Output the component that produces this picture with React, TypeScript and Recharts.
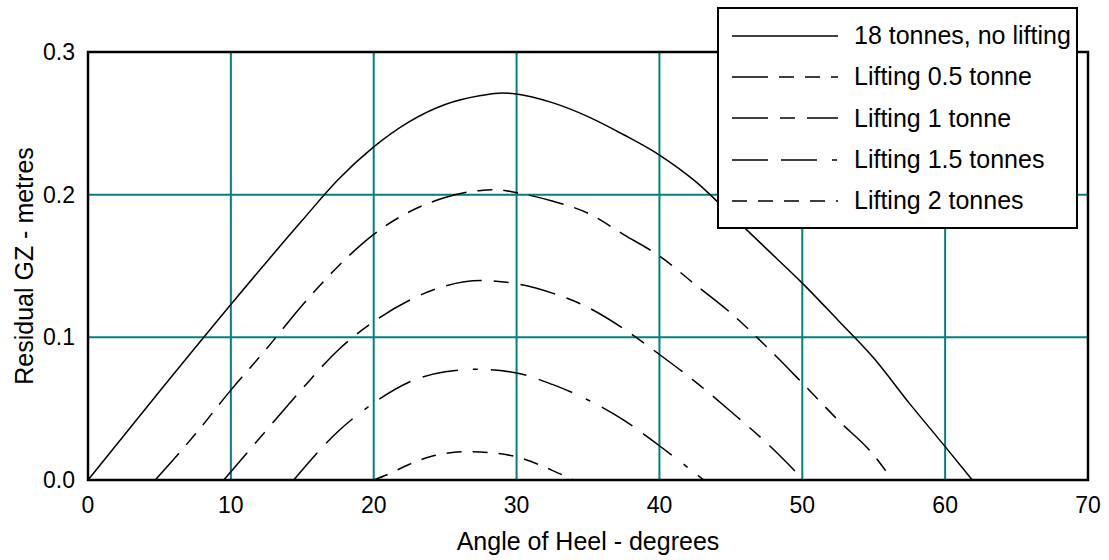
import React from "react";
import {
  LineChart,
  Line,
  XAxis,
  YAxis,
  CartesianGrid,
  ReferenceArea,
  Legend,
  Label,
} from "recharts";

// heel angle (deg) / residual GZ (m) for each loading case
const noLiftAngle = [0, 5, 10, 15, 17.5, 20, 22.5, 25, 27.5, 29, 30, 32.5, 35, 37.5, 40, 42.5, 45, 47.5, 50, 52.5, 55, 57.5, 60, 61.9];
const noLiftGz = [0, 0.062, 0.123, 0.182, 0.2105, 0.2335, 0.2512, 0.2632, 0.2695, 0.2713, 0.2706, 0.2645, 0.2547, 0.242, 0.2278, 0.2095, 0.186, 0.162, 0.138, 0.112, 0.0855, 0.0537, 0.0234, 0];

const halfAngle = [4.7, 7.5, 10, 12.5, 15, 17.5, 20, 22.5, 25, 27.5, 28.6, 30, 32.5, 35, 37.5, 40, 42.5, 45, 47.5, 50, 52.5, 55, 56.3];
const halfGz = [0, 0.032, 0.063, 0.092, 0.1225, 0.1497, 0.1722, 0.188, 0.198, 0.203, 0.2035, 0.2014, 0.1955, 0.187, 0.172, 0.157, 0.137, 0.117, 0.0934, 0.068, 0.042, 0.0175, 0];

const oneAngle = [9.5, 12.5, 15, 17.5, 20, 22.5, 25, 27.5, 30, 32.5, 35, 37.5, 40, 42.5, 45, 47.5, 50.1];
const oneGz = [0, 0.035, 0.064, 0.091, 0.111, 0.126, 0.136, 0.1398, 0.1375, 0.131, 0.121, 0.106, 0.088, 0.069, 0.048, 0.026, 0];

const oneHalfAngle = [14.4, 17.5, 20, 22.5, 25, 27.2, 30, 32.5, 35, 37.5, 40, 43.1];
const oneHalfGz = [0, 0.034, 0.054, 0.0687, 0.0759, 0.0776, 0.075, 0.067, 0.0561, 0.042, 0.024, 0];

const twoAngle = [20, 21, 22.5, 24, 26.5, 28.5, 30, 31.5, 33, 34];
const twoGz = [0, 0.004, 0.011, 0.0165, 0.0198, 0.0188, 0.0162, 0.011, 0.0045, 0];

const seriesNames = [
  "18 tonnes, no lifting",
  "Lifting 0.5 tonne",
  "Lifting 1 tonne",
  "Lifting 1.5 tonnes",
  "Lifting 2 tonnes",
];

const xTicks = [0, 10, 20, 30, 40, 50, 60, 70];
const yTicks = [0, 0.1, 0.2, 0.3];

const toPoints = (angles: number[], gz: number[]) =>
  angles.map((angle, i) => ({ angle, gz: gz[i] }));

const seriesData = [
  toPoints(noLiftAngle, noLiftGz),
  toPoints(halfAngle, halfGz),
  toPoints(oneAngle, oneGz),
  toPoints(oneHalfAngle, oneHalfGz),
  toPoints(twoAngle, twoGz),
];

// line styles, same order as the series
const dashes = ["", "36 11 15 11 15 11", "36 12 15 12", "36 13 36 15 5 13", "15 11"];

const FONT = '"Liberation Sans", Arial, sans-serif';
const TEAL = "#008080";

function LegendBox() {
  return (
    <div
      style={{
        width: 361,
        height: 222,
        boxSizing: "border-box",
        border: "2px solid #000",
        background: "#fff",
        paddingTop: 6,
        fontFamily: FONT,
        fontSize: 25,
        color: "#000",
      }}
    >
      {seriesNames.map((name, i) => (
        <div key={name} style={{ display: "flex", alignItems: "center", height: 41.3 }}>
          <svg width={106} height={10} style={{ marginLeft: 13, marginRight: 16, flexShrink: 0 }}>
            <line x1={0} y1={5} x2={106} y2={5} stroke="#000" strokeWidth={1.5} strokeDasharray={dashes[i] || undefined} />
          </svg>
          <span style={{ whiteSpace: "nowrap" }}>{name}</span>
        </div>
      ))}
    </div>
  );
}

export default function App() {
  return (
    <div style={{ position: "absolute", left: 0, top: 0, background: "#fff" }}>
      <LineChart
        width={1109}
        height={560}
        margin={{ top: 52, right: 21, bottom: 0, left: 0 }}
        style={{ fontFamily: FONT }}
      >
        <CartesianGrid stroke={TEAL} strokeWidth={2} horizontalValues={yTicks} verticalValues={xTicks} />
        <XAxis
          type="number"
          dataKey="angle"
          domain={[0, 70]}
          ticks={xTicks}
          allowDuplicatedCategory={false}
          height={80}
          axisLine={false}
          tickLine={false}
          tickSize={0}
          tickMargin={17}
          tick={{ fill: "#000", fontSize: 23 }}
        >
          <Label value="Angle of Heel - degrees" position="insideBottom" offset={10} fill="#000" fontSize={25} />
        </XAxis>
        <YAxis
          type="number"
          domain={[0, 0.3]}
          ticks={yTicks}
          width={88}
          axisLine={false}
          tickLine={false}
          tickSize={0}
          tickMargin={13}
          tickFormatter={(v: number) => v.toFixed(1)}
          tick={{ fill: "#000", fontSize: 23 }}
        >
          <Label
            value="Residual GZ - metres"
            angle={-90}
            position="insideLeft"
            offset={24}
            fill="#000"
            fontSize={25}
            style={{ textAnchor: "middle" }}
          />
        </YAxis>
        <ReferenceArea x1={0} x2={70} y1={0} y2={0.3} fill="none" stroke="#000" strokeWidth={2.5} />
        {seriesData.map((data, i) => (
          <Line
            key={seriesNames[i]}
            data={data}
            dataKey="gz"
            name={seriesNames[i]}
            type="monotone"
            stroke="#000"
            strokeWidth={1.5}
            strokeDasharray={dashes[i] || undefined}
            dot={false}
            activeDot={false}
            isAnimationActive={false}
          />
        ))}
        <Legend
          layout="horizontal"
          align="center"
          verticalAlign="middle"
          wrapperStyle={{ left: 717, top: 7, width: 361, height: 222 }}
          content={() => <LegendBox />}
        />
      </LineChart>
    </div>
  );
}
